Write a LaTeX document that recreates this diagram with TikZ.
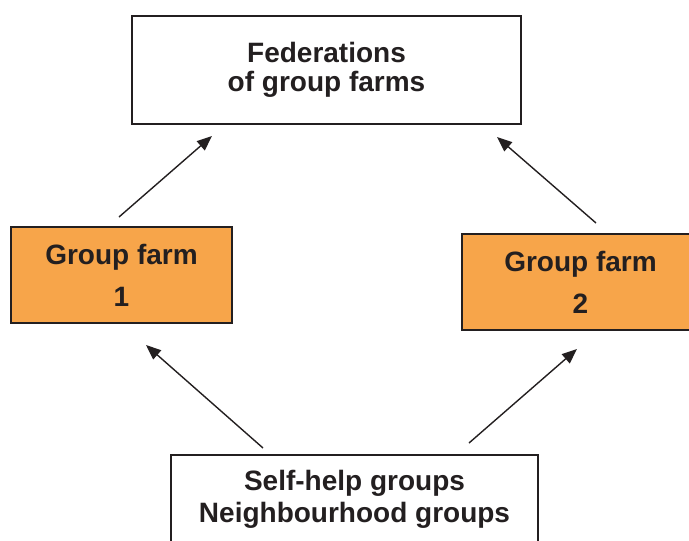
\documentclass[tikz,border=0pt]{standalone}
\usepackage{fontspec}
\setmainfont{Liberation Sans}
\usetikzlibrary{arrows.meta}
\definecolor{ink}{HTML}{231F20}
\definecolor{farmorange}{HTML}{F7A54A}
\begin{document}
\begin{tikzpicture}[x=1pt,y=-1pt,
  box/.style={draw=ink,line width=1.2pt,inner sep=0pt,align=center,text=ink},
  farm/.style={box,fill=farmorange},
  link/.style={draw=ink,line width=1.4pt,-{Triangle[length=15pt,width=12pt]}}]
\useasboundingbox (0,0) rectangle (689,541);
\node[box,minimum width=389pt,minimum height=108pt,font=\bfseries\fontsize{28}{29.5}\selectfont] (fed) at (326.5,70) {Federations\\of group farms};
\node[farm,minimum width=221pt,minimum height=96pt,font=\bfseries\fontsize{28}{42}\selectfont] (g1) at (121.5,275) {Group farm\\1};
\node[farm,minimum width=237pt,minimum height=96pt,font=\bfseries\fontsize{28}{42}\selectfont] (g2) at (580.5,282) {Group farm\\2};
\node[box,minimum width=367pt,minimum height=88pt,font=\bfseries\fontsize{28}{32}\selectfont] (shg) at (354.5,499) {Self-help groups\\Neighbourhood groups};
\coordinate (a1s) at (119,217); \coordinate (a1e) at (212,136);
\coordinate (a2s) at (596,223); \coordinate (a2e) at (497,137);
\coordinate (a3s) at (263,448); \coordinate (a3e) at (146,345);
\coordinate (a4s) at (469,443); \coordinate (a4e) at (577,349);
\draw[link] (a1s) -- (a1e);
\draw[link] (a2s) -- (a2e);
\draw[link] (a3s) -- (a3e);
\draw[link] (a4s) -- (a4e);
\end{tikzpicture}
\end{document}
